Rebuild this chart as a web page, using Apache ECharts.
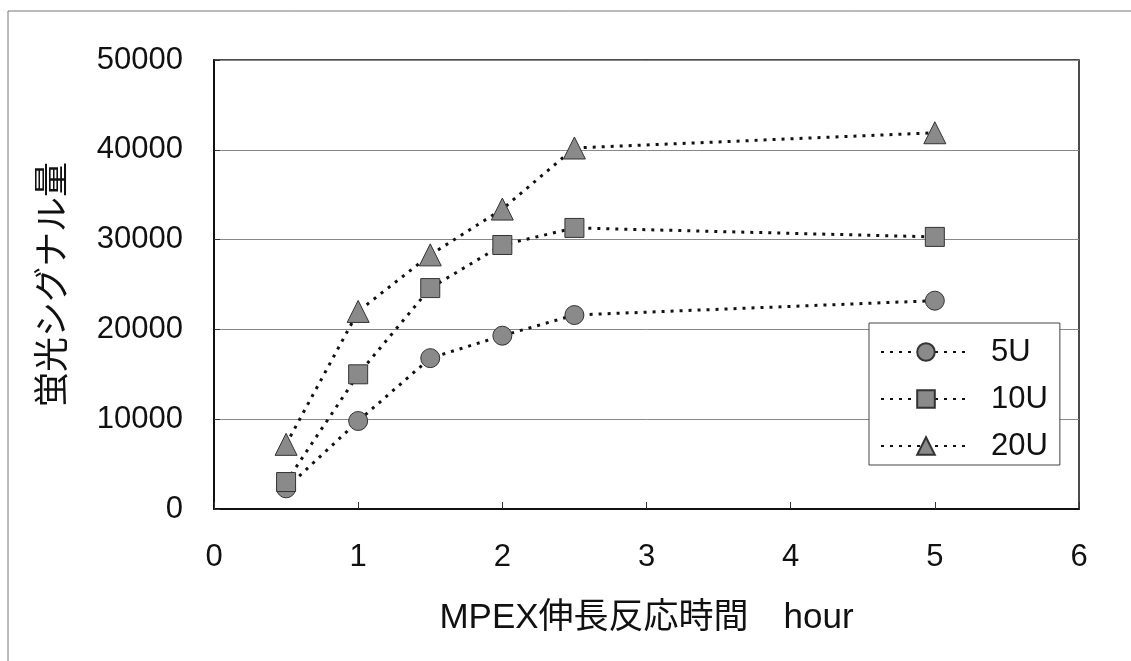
<!DOCTYPE html>
<html>
<head>
<meta charset="utf-8">
<script src="https://cdn.jsdelivr.net/npm/echarts@6/dist/echarts.min.js"></script>
<style>
  html, body { margin: 0; padding: 0; background: #fff; }
  #chart { width: 1131px; height: 661px; }
</style>
</head>
<body>
<div id="chart"></div>
<script>
const hours = [0.5, 1, 1.5, 2, 2.5, 5]
const s5U = [2300, 9800, 16800, 19300, 21600, 23200]
const s10U = [3000, 15000, 24600, 29400, 31300, 30300]
const s20U = [7200, 22000, 28300, 33400, 40200, 41900]
const seriesNames = ['5U', '10U', '20U']
const symbols = ['circle', 'rect', 'triangle']

const font = '"Liberation Sans", Arial, "Noto Sans CJK JP", sans-serif'
const cjkFont = '"Noto Sans CJK JP", sans-serif'
const chart = echarts.init(document.getElementById('chart'))

const makeSeries = (name, values, symbol, size) => ({
  name,
  type: 'line',
  data: hours.map((h, i) => [h, values[i]]),
  symbol,
  symbolSize: size,
  lineStyle: { color: '#111', width: 3, type: [3, 6] },
  itemStyle: { color: '#8a8a8a', borderColor: '#333', borderWidth: 1 },
  emphasis: { disabled: true },
  z: 3
})

const option = {
  backgroundColor: '#fff',
  animation: false,
  textStyle: { fontFamily: font },
  grid: { left: 214, right: 52, top: 60, bottom: 152, show: true, borderColor: '#111', borderWidth: 1.5 },
  legend: {
    orient: 'vertical',
    left: 869,
    top: 323,
    width: 191,
    padding: [13, 12, 3, 11],
    itemGap: 15,
    itemWidth: 90,
    itemHeight: 22,
    backgroundColor: '#fff',
    borderColor: '#444',
    borderWidth: 1,
    textStyle: { fontSize: 31, color: '#111', lineHeight: 32, padding: [0, 0, 0, 15] },
    data: seriesNames
  },
  xAxis: {
    type: 'value',
    min: 0,
    max: 6,
    interval: 1,
    name: 'MPEX伸長反応時間　hour',
    nameLocation: 'middle',
    nameGap: 92,
    nameTextStyle: { fontSize: 35, color: '#111', fontFamily: font },
    axisLine: { lineStyle: { color: '#111', width: 2 } },
    axisTick: { inside: true, length: 7, lineStyle: { color: '#333' } },
    axisLabel: { fontSize: 31, color: '#111', margin: 33 },
    splitLine: { show: false }
  },
  yAxis: {
    type: 'value',
    min: 0,
    max: 50000,
    interval: 10000,
    name: '蛍光シグナル量',
    nameLocation: 'middle',
    nameRotate: 90,
    nameGap: 146,
    nameTextStyle: { fontSize: 35, color: '#111', fontFamily: cjkFont },
    axisLine: { lineStyle: { color: '#111', width: 2 } },
    axisTick: { inside: true, length: 6, lineStyle: { color: '#333' } },
    axisLabel: { fontSize: 31, color: '#111', margin: 31, formatter: (v) => String(v) },
    splitLine: { lineStyle: { color: '#888', width: 1 } }
  },
  graphic: [
    { type: 'line', shape: { x1: 8, y1: 11, x2: 8, y2: 661 }, style: { stroke: '#777', lineWidth: 1 } },
    { type: 'line', shape: { x1: 8, y1: 11, x2: 1131, y2: 11 }, style: { stroke: '#777', lineWidth: 1 } }
  ],
  series: [
    makeSeries(seriesNames[0], s5U, symbols[0], 19),
    makeSeries(seriesNames[1], s10U, symbols[1], 19),
    makeSeries(seriesNames[2], s20U, symbols[2], 22)
  ]
}

chart.setOption(option)
</script>
</body>
</html>
